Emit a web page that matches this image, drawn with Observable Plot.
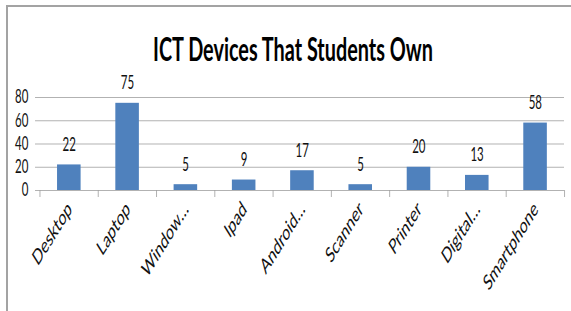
<!DOCTYPE html>
<html><head><meta charset="utf-8">
<script src="https://cdn.jsdelivr.net/npm/d3@7"></script>
<script src="https://cdn.jsdelivr.net/npm/@observablehq/plot@0.6"></script>
<style>
html,body{margin:0;padding:0;background:#fff;}
#page{position:relative;width:571px;height:311px;overflow:hidden;background:#fff;}
#frame{position:absolute;left:6px;top:5px;width:600px;height:400px;border-top:2px solid #a3a3a3;border-left:2px solid #a3a3a3;}
#squash{position:absolute;left:0;top:0;width:921px;height:311px;transform:scaleX(0.62);transform-origin:0 0;}
#title{position:absolute;left:0;top:33px;width:945px;text-align:center;font-family:Lato,"Open Sans",sans-serif;font-weight:bold;font-size:32px;line-height:32px;color:#000;}
</style></head><body>
<div id="page"><div id="frame"></div><div id="squash"><div id="chart"></div><div id="title">ICT Devices That Students Own</div></div></div>
<script>
const devices = ["Desktop","Laptop","Window…","Ipad","Android…","Scanner","Printer","Digital…","Smartphone"];
const counts = [22, 75, 5, 9, 17, 5, 20, 13, 58];
const yTicks = [0, 20, 40, 60, 80];

const W = 921, H = 311;
const mL = 62.9, mR = 11.3, mT = 97, mB = 121;
const step = (W - mL - mR) / devices.length;
const data = devices.map((d, i) => ({device: d, count: counts[i]}));
const tickDown = 7 * 80 / (H - mT - mB);
const grey = "#a0a0a0";

const chart = Plot.plot({
  width: W, height: H,
  marginLeft: mL, marginRight: mR, marginTop: mT, marginBottom: mB,
  style: {fontFamily: "Lato, 'Open Sans', sans-serif", fontSize: "19px", color: "#111", background: "transparent", overflow: "visible"},
  x: {domain: devices, paddingInner: 0.6, paddingOuter: 0.3, label: null},
  y: {domain: [0, 80], label: null},
  marks: [
    Plot.ruleY(yTicks, {stroke: grey, insetLeft: -6.4}),
    Plot.barY(data, {x: "device", y: "count", fill: "#4f81bd"}),
    Plot.ruleX(devices, {x: d => d, y1: 0, y2: -tickDown, dx: -step / 2, stroke: grey}),
    Plot.ruleX(devices.slice(-1), {x: d => d, y1: 0, y2: -tickDown, dx: step / 2, stroke: grey}),
    Plot.axisY({ticks: yTicks, tickSize: 0, tickPadding: 17.7, fontSize: 18.5, label: null}),
    Plot.axisX({tickSize: 0, tickRotate: -45, tickPadding: 15, dx: 1, fontSize: 21.5, label: null}),
    Plot.text(data, {x: "device", y: "count", text: d => String(d.count), dy: -20, fontSize: 18.5, fill: "#111"})
  ]
});
document.getElementById("chart").appendChild(chart);
</script>
</body></html>
